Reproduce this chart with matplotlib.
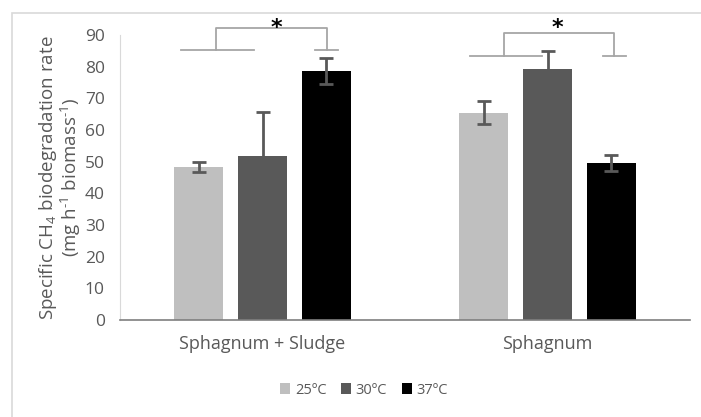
import matplotlib
matplotlib.use("Agg")
import matplotlib.pyplot as plt
import numpy as np
from matplotlib.patches import Rectangle

plt.rcParams['font.family'] = ['Open Sans', 'DejaVu Sans']
plt.rcParams['mathtext.default'] = 'regular'

groups = ['Sphagnum + Sludge', 'Sphagnum']
temps = ['25ºC', '30ºC', '37ºC']
rates = [[48.4, 65.5],   # 25ºC
         [51.8, 79.3],   # 30ºC
         [78.7, 49.5]]   # 37ºC
errs = [[1.6, 3.6],
        [14.0, 5.7],
        [4.1, 2.5]]
colors = ['#bfbfbf', '#595959', '#000000']

txt = '#595959'
fig = plt.figure(figsize=(7.01, 4.17), dpi=100)
ax = fig.add_axes([120 / 701, 1 - 320 / 417, 570 / 701, 285 / 417])

# chart area border (only left/top visible in the crop)
fig.patches.append(Rectangle((12 / 701, -0.1), 1.2, 1 - 13 / 417 + 0.1,
                             transform=fig.transFigure, fill=False,
                             edgecolor='#d9d9d9', lw=1.2))

x = np.arange(len(groups))
width = 0.172
step = 0.223
for i, (t, c) in enumerate(zip(temps, colors)):
    pos = x + (i - 1) * step
    ax.bar(pos, rates[i], width, color=c, label=t, zorder=2)
    ax.errorbar(pos, rates[i], yerr=errs[i], fmt='none', ecolor='#595959',
                elinewidth=2, capsize=5, capthick=2, zorder=3)

# significance brackets
br = '#a6a6a6'
brackets = [
    # left line, left drop x, right drop x, right cap, low y, high y, star x
    ((-0.286, -0.029), -0.164, 0.225, (0.184, 0.264), 85.3, 92.2, 0.05),
    ((0.728, 0.982), 0.847, 1.234, (1.196, 1.275), 83.5, 90.5, 1.036),
]
for (l0, l1), xa, xb, (c0, c1), ylo, yhi, xs in brackets:
    kw = dict(color=br, lw=1.3, clip_on=False)
    ax.plot([l0, l1], [ylo, ylo], **kw)
    ax.plot([xa, xa, xb, xb], [ylo, yhi, yhi, ylo], **kw)
    ax.plot([c0, c1], [ylo, ylo], **kw)
    ax.text(xs, 89.0, '*', ha='center', va='bottom', fontsize=16,
            fontweight='bold', color='black', clip_on=False,
            family='DejaVu Sans')

ax.set_xlim(-0.5, 1.5)
ax.set_ylim(0, 90)
ax.set_yticks(np.arange(0, 91, 10))
ax.set_xticks(x)
ax.set_xticklabels(groups, fontsize=13, color=txt)
ax.tick_params(axis='y', length=0, pad=11, labelsize=12.5, labelcolor=txt)
ax.tick_params(axis='x', length=0, pad=11)
for s in ['top', 'right']:
    ax.spines[s].set_visible(False)
ax.spines['left'].set_color('#d9d9d9')
ax.spines['bottom'].set_color('#7f7f7f')
ax.spines['bottom'].set_linewidth(1.2)

ax.set_ylabel('Specific CH$_4$ biodegradation rate\n(mg h$^{\u20101}$ biomass$^{\u20101}$)',
              fontsize=13.5, color=txt, labelpad=1, linespacing=1.0)

ax.legend(loc='center', bbox_to_anchor=(364 / 701, 1 - 390 / 417),
          bbox_transform=fig.transFigure, ncol=3, frameon=False,
          fontsize=10.5, labelcolor=txt, handlelength=0.7, handleheight=0.7,
          handletextpad=0.3, columnspacing=1.0)

fig.savefig('out.png', dpi=100)
